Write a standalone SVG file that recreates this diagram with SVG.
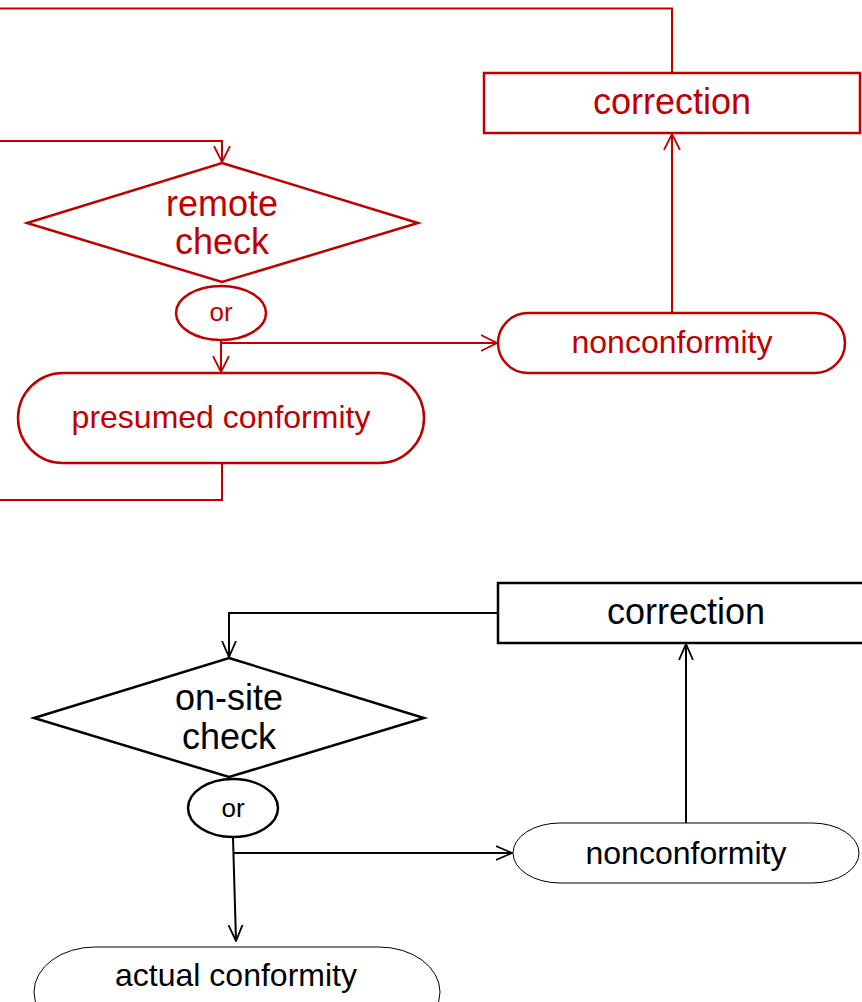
<svg xmlns="http://www.w3.org/2000/svg" width="862" height="1002" viewBox="0 0 862 1002">
<defs>
<style>
.rs{stroke:#C00000;fill:#fff;stroke-width:2.5}
.ks{stroke:#000;fill:#fff;stroke-width:2.5}
.kt{stroke:#000;fill:#fff;stroke-width:1}
.rl{stroke:#C00000;fill:none;stroke-width:2}
.kl{stroke:#000;fill:none;stroke-width:2}
text{font-family:"Liberation Sans",Arial,sans-serif;text-anchor:middle}
.tr{fill:#C00000}
.tk{fill:#000}
</style>
<marker id="ar" viewBox="0 0 17 18" refX="16" refY="9" markerWidth="17" markerHeight="18" markerUnits="userSpaceOnUse" orient="auto">
<path d="M0,1 L16,9 L0,17" fill="none" stroke="#C00000" stroke-width="1.8"/>
</marker>
<marker id="ak" viewBox="0 0 17 18" refX="16" refY="9" markerWidth="17" markerHeight="18" markerUnits="userSpaceOnUse" orient="auto">
<path d="M0,2 L16,9 L0,16" fill="none" stroke="#000" stroke-width="1.8"/>
</marker>
</defs>
<g id="connectors">
<polyline class="rl" points="672,73 672,8.5 0,8.5"/>
<polyline class="rl" points="0,141 222,141 222,162" marker-end="url(#ar)"/>
<line class="rl" x1="221" y1="340" x2="221" y2="372" marker-end="url(#ar)"/>
<polyline class="rl" points="221,343 497,343" marker-end="url(#ar)"/>
<polyline class="rl" points="222,463 222,500 0,500"/>
<line class="rl" x1="672" y1="313" x2="672" y2="134" marker-end="url(#ar)"/>
<polyline class="kl" points="498,613 229,613 229,657" marker-end="url(#ak)"/>
<line class="kl" x1="233" y1="838" x2="236" y2="941" marker-end="url(#ak)"/>
<line class="kl" x1="233" y1="853" x2="512" y2="853" marker-end="url(#ak)"/>
<line class="kl" x1="686" y1="823" x2="686" y2="644" marker-end="url(#ak)"/>
</g>
<g id="correction-remote">
<rect class="rs" x="484" y="73" width="376" height="60"/>
<text class="tr" x="672" y="114" font-size="36">correction</text>
</g>
<g id="remote-check">
<polygon class="rs" points="222,163 418,223 222,282 27,223"/>
<text class="tr" x="222" y="216" font-size="36">remote</text>
<text class="tr" x="222" y="254" font-size="36">check</text>
</g>
<g id="or-remote">
<ellipse class="rs" stroke-width="2" cx="221" cy="313" rx="45" ry="27"/>
<text class="tr" x="221" y="321" font-size="26">or</text>
</g>
<g id="presumed-conformity">
<rect class="rs" x="18" y="373" width="406" height="90" rx="45" ry="45"/>
<text class="tr" x="221" y="428" font-size="32">presumed conformity</text>
</g>
<g id="nonconformity-remote">
<rect class="rs" x="498" y="313" width="347" height="60" rx="30" ry="30"/>
<text class="tr" x="672" y="353" font-size="32">nonconformity</text>
</g>
<g id="correction-onsite">
<rect class="ks" x="498" y="583" width="370" height="60"/>
<text class="tk" x="686" y="624" font-size="36">correction</text>
</g>
<g id="onsite-check">
<polygon class="ks" points="229,658 424,718 229,777 34,718"/>
<text class="tk" x="229" y="710" font-size="36">on-site</text>
<text class="tk" x="229" y="749" font-size="36">check</text>
</g>
<g id="or-onsite">
<ellipse class="ks" stroke-width="2" cx="233" cy="808" rx="45" ry="29"/>
<text class="tk" x="233" y="817" font-size="26">or</text>
</g>
<g id="nonconformity-onsite">
<path class="kt" d="M560,823 H812 A47,30 0 0 1 812,883 H560 A47,30 0 0 1 560,823 Z"/>
<text class="tk" x="686" y="864" font-size="32">nonconformity</text>
</g>
<g id="actual-conformity">
<path class="kt" d="M95,947 H379 A61,45 0 0 1 379,1037 H95 A61,45 0 0 1 95,947 Z"/>
<text class="tk" x="236" y="986" font-size="32">actual conformity</text>
</g>
</svg>
